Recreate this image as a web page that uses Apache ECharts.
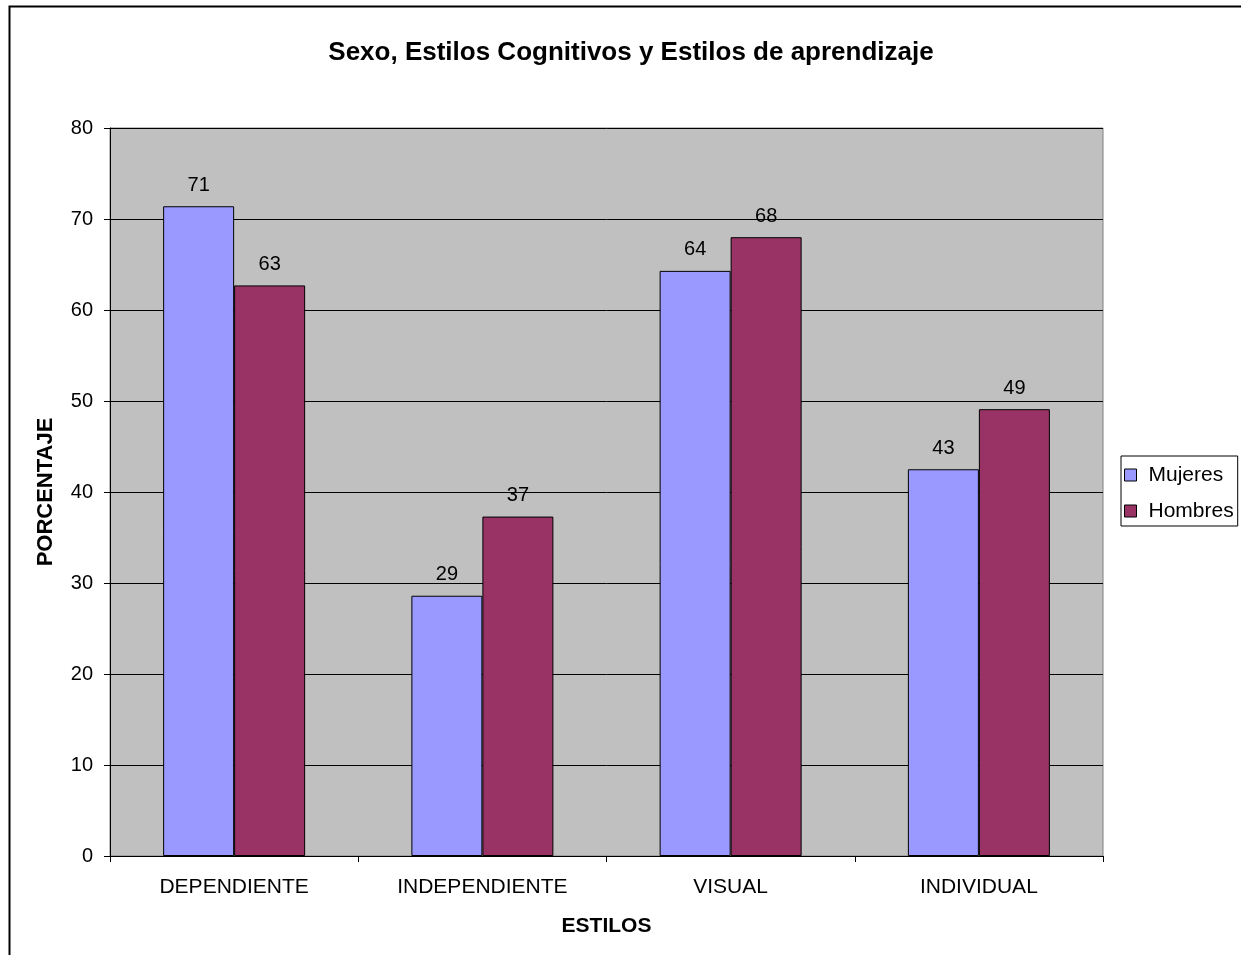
<!DOCTYPE html>
<html>
<head>
<meta charset="utf-8">
<title>Sexo, Estilos Cognitivos y Estilos de aprendizaje</title>
<script src="https://cdn.jsdelivr.net/npm/echarts@6/dist/echarts.min.js"></script>
<style>
  html, body { margin: 0; padding: 0; background: #fff; }
  #chart { width: 1241px; height: 955px; }
</style>
</head>
<body>
<div id="chart"></div>
<script>
// datos
var categorias = ['DEPENDIENTE', 'INDEPENDIENTE', 'VISUAL', 'INDIVIDUAL'];
var mujeres = [71.4, 28.6, 64.3, 42.5];
var hombres = [62.7, 37.3, 68.0, 49.1];
var ticksY = [0, 10, 20, 30, 40, 50, 60, 70, 80];

var fuente = '"Liberation Sans", Arial, sans-serif';

var myChart = echarts.init(document.getElementById('chart'));

var etiqueta = {
  show: true,
  position: 'top',
  distance: 11,
  color: '#000',
  fontSize: 20,
  fontFamily: fuente,
  formatter: function (p) { return Math.round(p.value); }
};

var option = {
  animation: false,
  backgroundColor: '#fff',
  textStyle: { fontFamily: fuente },
  title: {
    text: 'Sexo, Estilos Cognitivos y Estilos de aprendizaje',
    left: 626,
    textAlign: 'center',
    top: 35,
    textStyle: { fontSize: 26, fontWeight: 'bold', color: '#000', fontFamily: fuente }
  },
  // marco exterior (solo se ve arriba y a la izquierda)
  graphic: [{
    type: 'rect',
    shape: { x: 9.5, y: 6.5, width: 1300, height: 1000 },
    style: { fill: 'none', stroke: '#000', lineWidth: 2 },
    z: 100
  }],
  legend: {
    orient: 'vertical',
    left: 1121,
    top: 456,
    padding: [8, 4, 4, 3],
    itemGap: 14,
    itemWidth: 12,
    itemHeight: 12,
    icon: 'rect',
    borderColor: '#000',
    borderWidth: 1,
    backgroundColor: '#fff',
    itemStyle: { borderColor: '#000', borderWidth: 1 },
    textStyle: {
      fontSize: 21, lineHeight: 22, color: '#000', fontFamily: fuente,
      width: 84, padding: [0, 0, 0, 7]
    },
    data: ['Mujeres', 'Hombres']
  },
  grid: {
    left: 110,
    right: 138,
    top: 128,
    bottom: 99,
    show: true,
    backgroundColor: '#C0C0C0',
    borderColor: '#808080',
    borderWidth: 1
  },
  xAxis: {
    type: 'category',
    data: categorias,
    name: 'ESTILOS',
    nameLocation: 'middle',
    nameGap: 60,
    nameTextStyle: { fontSize: 21, fontWeight: 'bold', color: '#000' },
    axisLine: { lineStyle: { color: '#000', width: 1 } },
    axisTick: { show: true, length: 6, lineStyle: { color: '#000' } },
    axisLabel: { fontSize: 21, color: '#000', margin: 21 }
  },
  yAxis: {
    type: 'value',
    min: ticksY[0],
    max: ticksY[ticksY.length - 1],
    interval: 10,
    name: 'PORCENTAJE',
    nameLocation: 'middle',
    nameGap: 53,
    nameTextStyle: { fontSize: 22, fontWeight: 'bold', color: '#000' },
    axisLine: { show: true, lineStyle: { color: '#000', width: 1 } },
    axisTick: { show: true, length: 6, lineStyle: { color: '#000' } },
    axisLabel: { fontSize: 20, color: '#000', margin: 17 },
    splitLine: { show: true, lineStyle: { color: '#000', width: 1 } }
  },
  series: [
    {
      name: 'Mujeres',
      type: 'bar',
      data: mujeres,
      barWidth: 71,
      barGap: '0%',
      itemStyle: { color: '#9999FF', borderColor: '#000', borderWidth: 1 },
      label: etiqueta
    },
    {
      name: 'Hombres',
      type: 'bar',
      data: hombres,
      barWidth: 71,
      barGap: '0%',
      itemStyle: { color: '#993366', borderColor: '#000', borderWidth: 1 },
      label: etiqueta
    }
  ]
};

myChart.setOption(option);
</script>
</body>
</html>
